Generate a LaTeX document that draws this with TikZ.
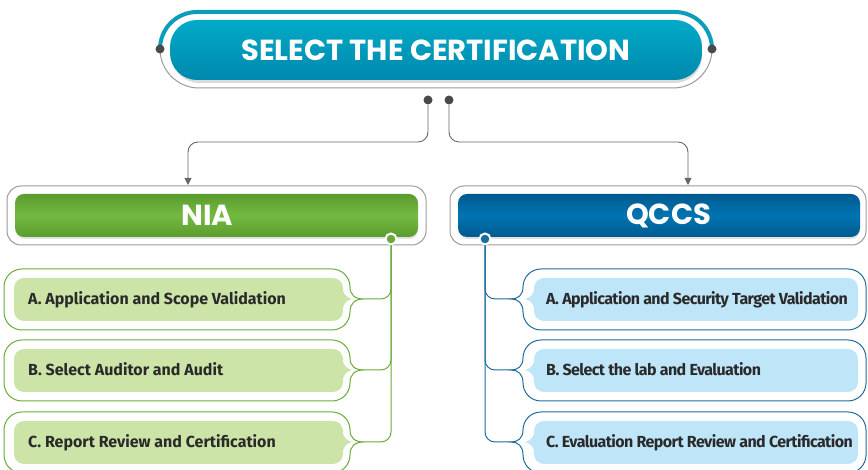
\documentclass[tikz,border=0pt]{standalone}
\usepackage{fontspec}
\setmainfont{Fira Sans}
\newfontfamily\headfont{Poppins}
\newfontfamily\qccsfont{Fira Sans}[LetterSpace=-3.5]
\usetikzlibrary{arrows.meta}

\definecolor{titletop}{HTML}{0B9DB9}
\definecolor{titlehi}{HTML}{02AAC7}
\definecolor{titlelo}{HTML}{0088AD}
\definecolor{framegray}{HTML}{9A9A9A}
\definecolor{dotgray}{HTML}{4A4A4A}
\definecolor{linegray}{HTML}{666666}
\definecolor{niaedge}{HTML}{5B9C2F}
\definecolor{niamid}{HTML}{74BA41}
\definecolor{qccsedge}{HTML}{005A8E}
\definecolor{qccsmid}{HTML}{0074B2}
\definecolor{greenline}{HTML}{6AAA3C}
\definecolor{greenfill}{HTML}{CCE4A7}
\definecolor{blueline}{HTML}{1D6C9C}
\definecolor{bluefill}{HTML}{BEE5F8}
\definecolor{itemink}{HTML}{2A2A2A}

\tikzset{
    headtext/.style={text=white, font=\headfont\bfseries\fontsize{29}{31}\selectfont},
    hframe/.style={draw=framegray, line width=1pt, rounded corners=14pt},
    hshadow/.style={fill=black!12, rounded corners=9pt},
    niabar/.style={rounded corners=9pt, top color=niaedge, bottom color=niaedge, middle color=niamid},
    qccsbar/.style={rounded corners=9pt, top color=qccsedge, bottom color=qccsedge, middle color=qccsmid},
    hdot/.style={circle, fill=dotgray, inner sep=0pt, minimum size=9pt},
    conn/.style={draw=linegray, line width=0.9pt, rounded corners=10pt, -{Triangle[length=7pt,width=7pt]}},
    itemtext/.style={anchor=base west, text=itemink, font=\bfseries\fontsize{16}{18}\selectfont, inner sep=0pt}
}

\begin{document}
\begin{tikzpicture}[x=1pt, y=1pt]
    \useasboundingbox (0,0) rectangle (868,470);

    \draw[framegray, line width=1pt] (160,421) arc[start angle=180, end angle=270, radius=39] -- (673,382) arc[start angle=270, end angle=360, radius=39];
    \draw[titletop, line width=4pt] (160,421) arc[start angle=180, end angle=90, radius=37] -- (675,458) arc[start angle=90, end angle=0, radius=37];
    \node[hdot] (tl) at (160,421) {};
    \node[hdot] (tr) at (712,421) {};
    \fill[black!14, rounded corners=27pt] (172,387) rectangle (702,447);
    \node[headtext, rounded corners=27pt, top color=titlehi, bottom color=titlelo, minimum width=532pt, minimum height=60pt] (title) at (436,420) {SELECT THE CERTIFICATION};

    \node[hdot] (dotl) at (428,370) {};
    \node[hdot] (dotr) at (449,370) {};
    \coordinate (niain) at (188,285);
    \coordinate (qccsin) at (688,285);
    \draw[conn] (dotl) -- (428,328) -| (niain);
    \draw[conn] (dotr) -- (449,328) -| (qccsin);

    \node[hframe, minimum width=419pt, minimum height=59pt] (niaframe) at (216.5,254.5) {};
    \fill[hshadow] (16,231) rectangle (418,274);
    \node[niabar, minimum width=403pt, minimum height=43pt] (nia) at (216.5,254.5) {};
    \node[headtext] (niatext) at (207.5,254.5) {NIA};
    \node[hframe, minimum width=416pt, minimum height=59pt] (qccsframe) at (658,254.5) {};
    \fill[hshadow] (459,231) rectangle (860,274);
    \node[qccsbar, minimum width=402pt, minimum height=43pt] (qccs) at (659,254.5) {};
    \node[headtext] (qccstext) at (668.5,254.5) {QCCS};

    \node[circle, fill=greenline, draw=white, line width=2pt, inner sep=0pt, minimum size=11pt] (niadot) at (391,231) {};
    \node[circle, fill=blueline, draw=white, line width=2pt, inner sep=0pt, minimum size=11pt] (qccsdot) at (485,231) {};

    \foreach \cy/\txt [count=\i] in {171/A. Application and Scope Validation, 100/B. Select Auditor and Audit, 28/C. Report Review and Certification} {
        \draw[greenline, line width=1pt] (22,\cy+30) -- (332,\cy+30) arc[start angle=90, end angle=0, radius=18]
            .. controls (350,\cy+4) and (355,\cy) .. (364,\cy) .. controls (355,\cy) and (350,\cy-4) .. (350,\cy-13)
            arc[start angle=0, end angle=-90, radius=18] -- (22,\cy-31) arc[start angle=270, end angle=180, radius=18]
            -- (4,\cy+12) arc[start angle=180, end angle=90, radius=18] -- cycle;
        \fill[greenfill] (24,\cy+21) -- (333,\cy+21) arc[start angle=90, end angle=0, radius=10] -- (343,\cy+8)
            .. controls (345,\cy+3) and (348,\cy+1) .. (352,\cy) .. controls (348,\cy-1) and (345,\cy-3) .. (343,\cy-8)
            -- (343,\cy-12) arc[start angle=0, end angle=-90, radius=10] -- (24,\cy-22) arc[start angle=270, end angle=180, radius=10]
            -- (14,\cy+11) arc[start angle=180, end angle=90, radius=10] -- cycle;
        \coordinate (ltip\i) at (364,\cy);
        \draw[greenline, line width=1pt, rounded corners=10pt] (niadot) |- (ltip\i);
        \node[itemtext] (niastep\i) at (28,\cy-5.5) {\txt};
    }

    \foreach \cy/\txt [count=\i] in {171/A. Application and Security Target Validation, 100/B. Select the lab and Evaluation, 28/C. Evaluation Report Review and Certification} {
        \draw[blueline, line width=1pt] (541,\cy+30) -- (848,\cy+30) arc[start angle=90, end angle=0, radius=18]
            -- (866,\cy-13) arc[start angle=0, end angle=-90, radius=18] -- (541,\cy-31) arc[start angle=270, end angle=180, radius=18]
            .. controls (523,\cy-4) and (518,\cy) .. (511,\cy) .. controls (518,\cy) and (523,\cy+4) .. (523,\cy+12)
            arc[start angle=180, end angle=90, radius=18] -- cycle;
        \fill[bluefill] (544,\cy+21) -- (848,\cy+21) arc[start angle=90, end angle=0, radius=10]
            -- (858,\cy-12) arc[start angle=0, end angle=-90, radius=10] -- (544,\cy-22) arc[start angle=270, end angle=180, radius=10]
            -- (534,\cy-8) .. controls (532,\cy-3) and (529,\cy-1) .. (525,\cy) .. controls (529,\cy+1) and (532,\cy+3) .. (534,\cy+8)
            -- (534,\cy+11) arc[start angle=180, end angle=90, radius=10] -- cycle;
        \coordinate (rtip\i) at (511,\cy);
        \draw[blueline, line width=1pt, rounded corners=10pt] (qccsdot) |- (rtip\i);
        \node[itemtext, font=\qccsfont\bfseries\fontsize{16}{18}\selectfont] (qccsstep\i) at (546,\cy-5.5) {\txt};
    }
\end{tikzpicture}
\end{document}
